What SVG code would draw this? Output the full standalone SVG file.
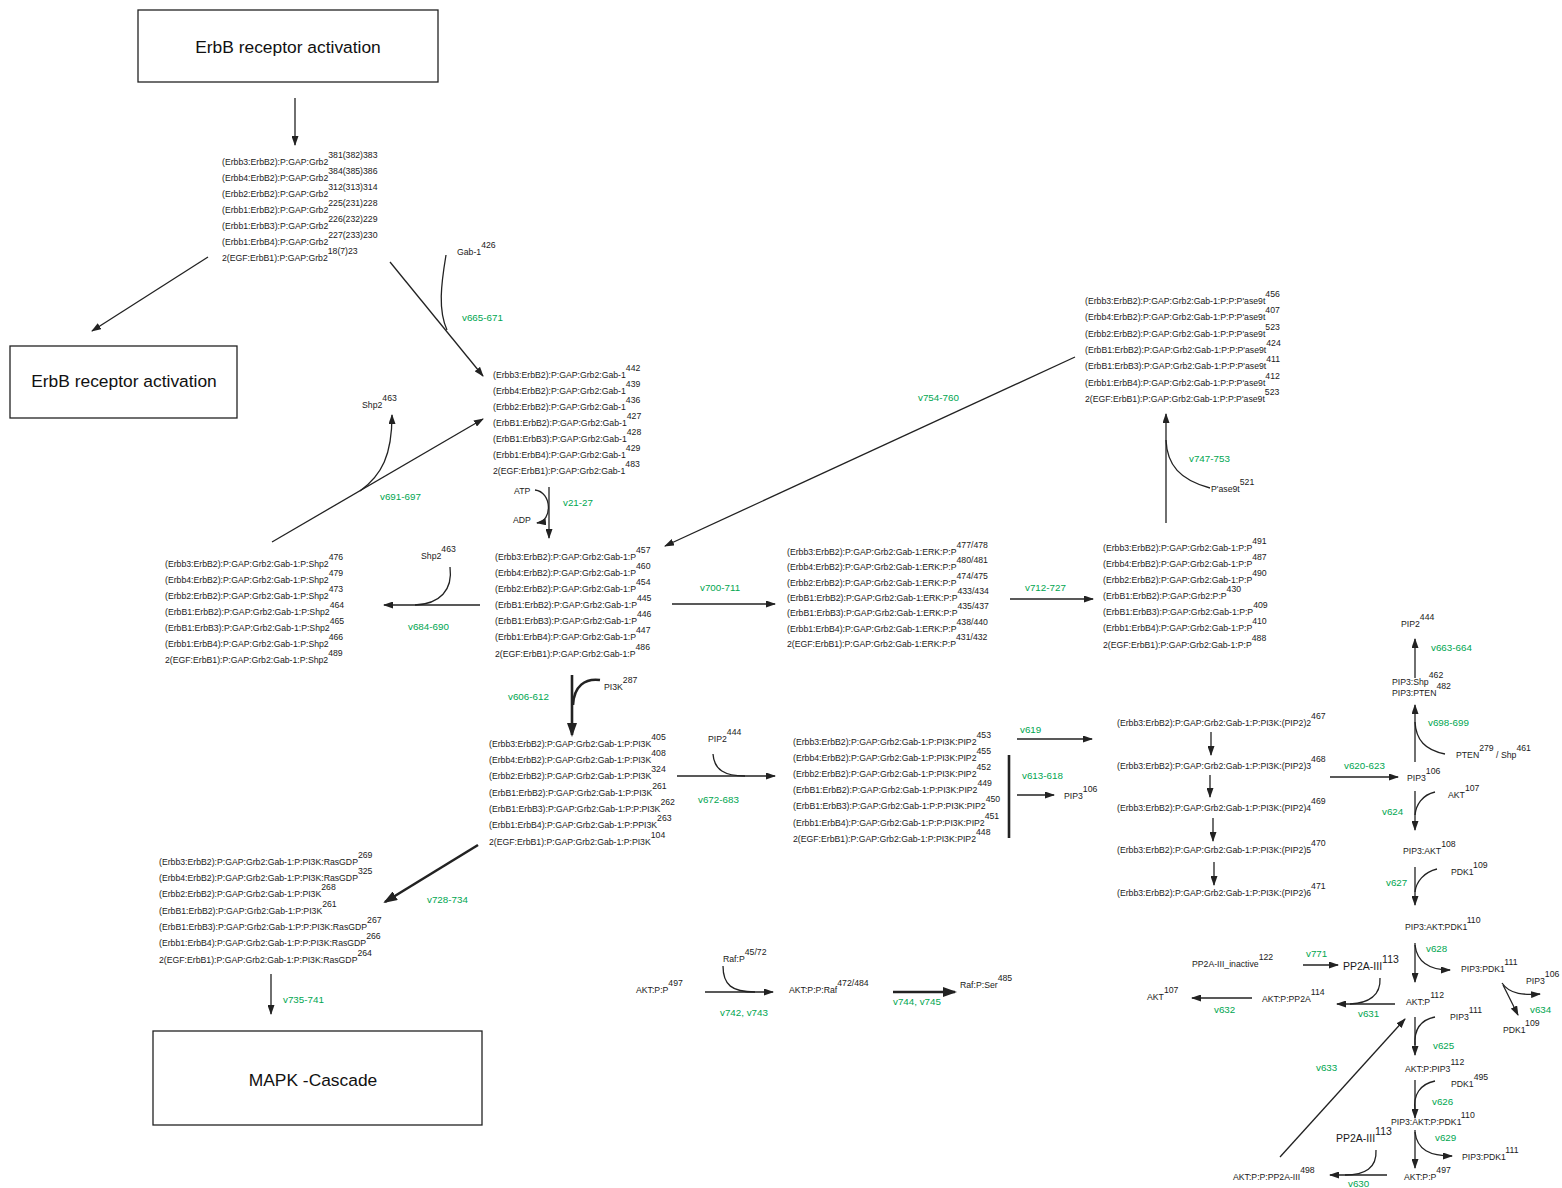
<svg xmlns="http://www.w3.org/2000/svg" width="1562" height="1188" viewBox="0 0 1562 1188">
<defs>
<style>
.s{font-family:"Liberation Sans",Arial,sans-serif;font-size:8.7px;fill:#1a1a1a}
.g{font-family:"Liberation Sans",Arial,sans-serif;font-size:9.8px;fill:#00a651}
.b{font-family:"Liberation Sans",Arial,sans-serif;font-size:17.4px;fill:#111}
.m{font-size:10.5px}
.l{stroke:#222;stroke-width:1.3;fill:none}
.t{stroke:#222;stroke-width:2.6;fill:none}
.box{fill:#fff;stroke:#222;stroke-width:1.3}
</style>
<marker id="a" markerWidth="10" markerHeight="7" refX="9" refY="3.5" orient="auto" markerUnits="userSpaceOnUse"><path d="M0,0 L10,3.5 L0,7 z" fill="#222"/></marker>
<marker id="at" markerWidth="14" markerHeight="10" refX="12" refY="5" orient="auto" markerUnits="userSpaceOnUse"><path d="M0,0 L14,5 L0,10 z" fill="#222"/></marker>
</defs>
<rect width="1562" height="1188" fill="#fff"/>

<g id="connectors">
<line class="l" x1="295" y1="98" x2="295" y2="145" marker-end="url(#a)"/>
<line class="l" x1="208" y1="257" x2="92" y2="331" marker-end="url(#a)"/>
<line class="l" x1="390" y1="262" x2="483" y2="376" marker-end="url(#a)"/>
<path class="l" d="M446,255 C441,285 438,310 447,330"/>
<line class="l" x1="272" y1="542" x2="483" y2="419" marker-end="url(#a)"/>
<path class="l" d="M360,491 C382,475 392,455 392,415" marker-end="url(#a)"/>
<line class="l" x1="549" y1="487" x2="549" y2="538" marker-end="url(#a)"/>
<path class="l" d="M535,490 C552,492 553,521 537,523" marker-end="url(#a)"/>
<line class="l" x1="480" y1="605" x2="384" y2="605" marker-end="url(#a)"/>
<path class="l" d="M450,567 C453,590 440,604 415,605"/>
<line class="l" x1="672" y1="604" x2="775" y2="604" marker-end="url(#a)"/>
<line class="l" x1="1010" y1="599" x2="1093" y2="599" marker-end="url(#a)"/>
<line class="l" x1="1166" y1="523" x2="1166" y2="414" marker-end="url(#a)"/>
<path class="l" d="M1210,488 C1180,480 1167,465 1166,440"/>
<line class="l" x1="1075" y1="357" x2="665" y2="546" marker-end="url(#a)"/>
<line class="t" x1="572" y1="675" x2="572" y2="735" marker-end="url(#at)"/>
<path class="t" d="M600,680 C585,678 574,686 573,705"/>
<line class="l" x1="677" y1="776" x2="775" y2="776" marker-end="url(#a)"/>
<path class="l" d="M713,754 C714,770 725,776 745,776"/>
<line class="l" x1="1017" y1="739" x2="1092" y2="739" marker-end="url(#a)"/>
<line class="t" x1="1009" y1="755" x2="1009" y2="838"/>
<line class="l" x1="1017" y1="795" x2="1054" y2="795" marker-end="url(#a)"/>
<line class="l" x1="1211" y1="732" x2="1211" y2="755" marker-end="url(#a)"/>
<line class="l" x1="1210" y1="775" x2="1210" y2="797" marker-end="url(#a)"/>
<line class="l" x1="1213" y1="818" x2="1213" y2="841" marker-end="url(#a)"/>
<line class="l" x1="1214" y1="862" x2="1214" y2="885" marker-end="url(#a)"/>
<line class="l" x1="1330" y1="777" x2="1398" y2="777" marker-end="url(#a)"/>
<line class="l" x1="1415" y1="762" x2="1415" y2="705" marker-end="url(#a)"/>
<path class="l" d="M1445,754 C1425,750 1416,740 1415,722"/>
<line class="l" x1="1415" y1="678" x2="1415" y2="639" marker-end="url(#a)"/>
<line class="l" x1="1415" y1="791" x2="1415" y2="830" marker-end="url(#a)"/>
<path class="l" d="M1435,792 C1422,795 1416,805 1415,815"/>
<line class="l" x1="1415" y1="867" x2="1415" y2="905" marker-end="url(#a)"/>
<path class="l" d="M1437,869 C1424,872 1416,882 1415,892"/>
<line class="l" x1="1415" y1="943" x2="1415" y2="982" marker-end="url(#a)"/>
<path class="l" d="M1415,945 C1417,962 1430,970 1450,970" marker-end="url(#a)"/>
<path class="l" d="M1502,983 C1510,995 1525,995 1540,994" marker-end="url(#a)"/>
<line class="l" x1="1503" y1="985" x2="1518" y2="1015" marker-end="url(#a)"/>
<line class="l" x1="1303" y1="965" x2="1338" y2="965" marker-end="url(#a)"/>
<line class="l" x1="1395" y1="1004" x2="1337" y2="1004" marker-end="url(#a)"/>
<path class="l" d="M1380,978 C1381,996 1368,1003 1350,1004"/>
<line class="l" x1="1252" y1="998" x2="1192" y2="998" marker-end="url(#a)"/>
<line class="l" x1="1415" y1="1017" x2="1415" y2="1055" marker-end="url(#a)"/>
<path class="l" d="M1435,1017 C1420,1020 1414,1030 1415,1045"/>
<line class="l" x1="1415" y1="1080" x2="1415" y2="1118" marker-end="url(#a)"/>
<path class="l" d="M1435,1081 C1420,1084 1413,1095 1415,1110"/>
<line class="l" x1="1415" y1="1130" x2="1415" y2="1168" marker-end="url(#a)"/>
<path class="l" d="M1415,1132 C1417,1150 1430,1156 1452,1156" marker-end="url(#a)"/>
<line class="l" x1="1387" y1="1175" x2="1330" y2="1175" marker-end="url(#a)"/>
<path class="l" d="M1376,1150 C1377,1168 1365,1175 1345,1175"/>
<line class="l" x1="1280" y1="1157" x2="1405" y2="1019" marker-end="url(#a)"/>
<line class="l" x1="705" y1="992" x2="773" y2="992" marker-end="url(#a)"/>
<path class="l" d="M723,966 C723,985 732,992 755,992"/>
<line class="t" x1="893" y1="992" x2="955" y2="992" marker-end="url(#at)"/>
<line class="t" x1="478" y1="845" x2="385" y2="902" marker-end="url(#at)"/>
<line class="l" x1="271" y1="974" x2="271" y2="1014" marker-end="url(#a)"/>
</g>

<g id="labels">
<text class="g" x="462" y="321">v665-671</text>
<text class="g" x="380" y="500">v691-697</text>
<text class="g" x="563" y="506">v21-27</text>
<text class="g" x="408" y="630">v684-690</text>
<text class="g" x="700" y="591">v700-711</text>
<text class="g" x="1025" y="591">v712-727</text>
<text class="g" x="1189" y="462">v747-753</text>
<text class="g" x="918" y="401">v754-760</text>
<text class="g" x="508" y="700">v606-612</text>
<text class="g" x="698" y="803">v672-683</text>
<text class="g" x="1020" y="733">v619</text>
<text class="g" x="1022" y="779">v613-618</text>
<text class="g" x="1344" y="769">v620-623</text>
<text class="g" x="1428" y="726">v698-699</text>
<text class="g" x="1431" y="651">v663-664</text>
<text class="g" x="1382" y="815">v624</text>
<text class="g" x="1386" y="886">v627</text>
<text class="g" x="1426" y="952">v628</text>
<text class="g" x="1530" y="1013">v634</text>
<text class="g" x="1306" y="957">v771</text>
<text class="g" x="1358" y="1017">v631</text>
<text class="g" x="1214" y="1013">v632</text>
<text class="g" x="1433" y="1049">v625</text>
<text class="g" x="1316" y="1071">v633</text>
<text class="g" x="1432" y="1105">v626</text>
<text class="g" x="1435" y="1141">v629</text>
<text class="g" x="1348" y="1187">v630</text>
<text class="g" x="720" y="1016">v742, v743</text>
<text class="g" x="893" y="1005">v744, v745</text>
<text class="g" x="427" y="903">v728-734</text>
<text class="g" x="283" y="1003">v735-741</text>
</g>

<g id="box_erbb_top"><rect class="box" x="138" y="10" width="300" height="72"/><text class="b" x="288" y="53" text-anchor="middle">ErbB receptor activation</text></g>
<g id="box_erbb_left"><rect class="box" x="10" y="346" width="227" height="72"/><text class="b" x="124" y="387" text-anchor="middle">ErbB receptor activation</text></g>
<g id="box_mapk"><rect class="box" x="153" y="1031" width="329" height="94"/><text class="b" x="313" y="1086" text-anchor="middle">MAPK -Cascade</text></g>

<g id="n_grb2">
<text class="s" x="222" y="165">(Erbb3:ErbB2):P:GAP:Grb2<tspan dy="-7">381(382)383</tspan></text>
<text class="s" x="222" y="181">(Erbb4:ErbB2):P:GAP:Grb2<tspan dy="-7">384(385)386</tspan></text>
<text class="s" x="222" y="197">(Erbb2:ErbB2):P:GAP:Grb2<tspan dy="-7">312(313)314</tspan></text>
<text class="s" x="222" y="213">(Erbb1:ErbB2):P:GAP:Grb2<tspan dy="-7">225(231)228</tspan></text>
<text class="s" x="222" y="229">(Erbb1:ErbB3):P:GAP:Grb2<tspan dy="-7">226(232)229</tspan></text>
<text class="s" x="222" y="245">(Erbb1:ErbB4):P:GAP:Grb2<tspan dy="-7">227(233)230</tspan></text>
<text class="s" x="222" y="261">2(EGF:ErbB1):P:GAP:Grb2<tspan dy="-7">18(7)23</tspan></text>
</g>

<g id="n_gab1"><text class="s" x="457" y="255">Gab-1<tspan dy="-7">426</tspan></text></g>

<g id="n_gab1list">
<text class="s" x="493" y="378">(Erbb3:ErbB2):P:GAP:Grb2:Gab-1<tspan dy="-7">442</tspan></text>
<text class="s" x="493" y="394">(Erbb4:ErbB2):P:GAP:Grb2:Gab-1<tspan dy="-7">439</tspan></text>
<text class="s" x="493" y="410">(Erbb2:ErbB2):P:GAP:Grb2:Gab-1<tspan dy="-7">436</tspan></text>
<text class="s" x="493" y="426">(ErbB1:ErbB2):P:GAP:Grb2:Gab-1<tspan dy="-7">427</tspan></text>
<text class="s" x="493" y="442">(ErbB1:ErbB3):P:GAP:Grb2:Gab-1<tspan dy="-7">428</tspan></text>
<text class="s" x="493" y="458">(Erbb1:ErbB4):P:GAP:Grb2:Gab-1<tspan dy="-7">429</tspan></text>
<text class="s" x="493" y="474">2(EGF:ErbB1):P:GAP:Grb2:Gab-1<tspan dy="-7">483</tspan></text>
</g>

<g id="n_shp2a"><text class="s" x="362" y="408">Shp2<tspan dy="-7">463</tspan></text></g>
<g id="n_atp"><text class="s" x="514" y="494">ATP</text></g>
<g id="n_adp"><text class="s" x="513" y="523">ADP</text></g>

<g id="n_shp2list">
<text class="s" x="165" y="567">(Erbb3:ErbB2):P:GAP:Grb2:Gab-1:P:Shp2<tspan dy="-7">476</tspan></text>
<text class="s" x="165" y="583">(Erbb4:ErbB2):P:GAP:Grb2:Gab-1:P:Shp2<tspan dy="-7">479</tspan></text>
<text class="s" x="165" y="599">(Erbb2:ErbB2):P:GAP:Grb2:Gab-1:P:Shp2<tspan dy="-7">473</tspan></text>
<text class="s" x="165" y="615">(ErbB1:ErbB2):P:GAP:Grb2:Gab-1:P:Shp2<tspan dy="-7">464</tspan></text>
<text class="s" x="165" y="631">(ErbB1:ErbB3):P:GAP:Grb2:Gab-1:P:Shp2<tspan dy="-7">465</tspan></text>
<text class="s" x="165" y="647">(Erbb1:ErbB4):P:GAP:Grb2:Gab-1:P:Shp2<tspan dy="-7">466</tspan></text>
<text class="s" x="165" y="663">2(EGF:ErbB1):P:GAP:Grb2:Gab-1:P:Shp2<tspan dy="-7">489</tspan></text>
</g>

<g id="n_shp2b"><text class="s" x="421" y="559">Shp2<tspan dy="-7">463</tspan></text></g>

<g id="n_plist">
<text class="s" x="495" y="560">(Erbb3:ErbB2):P:GAP:Grb2:Gab-1:P<tspan dy="-7">457</tspan></text>
<text class="s" x="495" y="576">(Erbb4:ErbB2):P:GAP:Grb2:Gab-1:P<tspan dy="-7">460</tspan></text>
<text class="s" x="495" y="592">(Erbb2:ErbB2):P:GAP:Grb2:Gab-1:P<tspan dy="-7">454</tspan></text>
<text class="s" x="495" y="608">(ErbB1:ErbB2):P:GAP:Grb2:Gab-1:P<tspan dy="-7">445</tspan></text>
<text class="s" x="495" y="624">(ErbB1:ErbB3):P:GAP:Grb2:Gab-1:P<tspan dy="-7">446</tspan></text>
<text class="s" x="495" y="640">(Erbb1:ErbB4):P:GAP:Grb2:Gab-1:P<tspan dy="-7">447</tspan></text>
<text class="s" x="495" y="657">2(EGF:ErbB1):P:GAP:Grb2:Gab-1:P<tspan dy="-7">486</tspan></text>
</g>

<g id="n_erklist">
<text class="s" x="787" y="555">(Erbb3:ErbB2):P:GAP:Grb2:Gab-1:ERK:P:P<tspan dy="-7">477/478</tspan></text>
<text class="s" x="787" y="570">(Erbb4:ErbB2):P:GAP:Grb2:Gab-1:ERK:P:P<tspan dy="-7">480/481</tspan></text>
<text class="s" x="787" y="586">(Erbb2:ErbB2):P:GAP:Grb2:Gab-1:ERK:P:P<tspan dy="-7">474/475</tspan></text>
<text class="s" x="787" y="601">(ErbB1:ErbB2):P:GAP:Grb2:Gab-1:ERK:P:P<tspan dy="-7">433/434</tspan></text>
<text class="s" x="787" y="616">(ErbB1:ErbB3):P:GAP:Grb2:Gab-1:ERK:P:P<tspan dy="-7">435/437</tspan></text>
<text class="s" x="787" y="632">(Erbb1:ErbB4):P:GAP:Grb2:Gab-1:ERK:P:P<tspan dy="-7">438/440</tspan></text>
<text class="s" x="787" y="647">2(EGF:ErbB1):P:GAP:Grb2:Gab-1:ERK:P:P<tspan dy="-7">431/432</tspan></text>
</g>

<g id="n_paselist">
<text class="s" x="1085" y="304">(Erbb3:ErbB2):P:GAP:Grb2:Gab-1:P:P:P'ase9t<tspan dy="-7">456</tspan></text>
<text class="s" x="1085" y="320">(Erbb4:ErbB2):P:GAP:Grb2:Gab-1:P:P:P'ase9t<tspan dy="-7">407</tspan></text>
<text class="s" x="1085" y="337">(Erbb2:ErbB2):P:GAP:Grb2:Gab-1:P:P:P'ase9t<tspan dy="-7">523</tspan></text>
<text class="s" x="1085" y="353">(ErbB1:ErbB2):P:GAP:Grb2:Gab-1:P:P:P'ase9t<tspan dy="-7">424</tspan></text>
<text class="s" x="1085" y="369">(ErbB1:ErbB3):P:GAP:Grb2:Gab-1:P:P:P'ase9t<tspan dy="-7">411</tspan></text>
<text class="s" x="1085" y="386">(Erbb1:ErbB4):P:GAP:Grb2:Gab-1:P:P:P'ase9t<tspan dy="-7">412</tspan></text>
<text class="s" x="1085" y="402">2(EGF:ErbB1):P:GAP:Grb2:Gab-1:P:P:P'ase9t<tspan dy="-7">523</tspan></text>
</g>

<g id="n_pase9t"><text class="s" x="1211" y="492">P'ase9t<tspan dy="-7">521</tspan></text></g>

<g id="n_pplist">
<text class="s" x="1103" y="551">(Erbb3:ErbB2):P:GAP:Grb2:Gab-1:P:P<tspan dy="-7">491</tspan></text>
<text class="s" x="1103" y="567">(Erbb4:ErbB2):P:GAP:Grb2:Gab-1:P:P<tspan dy="-7">487</tspan></text>
<text class="s" x="1103" y="583">(Erbb2:ErbB2):P:GAP:Grb2:Gab-1:P:P<tspan dy="-7">490</tspan></text>
<text class="s" x="1103" y="599">(ErbB1:ErbB2):P:GAP:Grb2:P:P<tspan dy="-7">430</tspan></text>
<text class="s" x="1103" y="615">(ErbB1:ErbB3):P:GAP:Grb2:Gab-1:P:P<tspan dy="-7">409</tspan></text>
<text class="s" x="1103" y="631">(Erbb1:ErbB4):P:GAP:Grb2:Gab-1:P:P<tspan dy="-7">410</tspan></text>
<text class="s" x="1103" y="648">2(EGF:ErbB1):P:GAP:Grb2:Gab-1:P:P<tspan dy="-7">488</tspan></text>
</g>

<g id="n_pi3k"><text class="s" x="604" y="690">PI3K<tspan dy="-7">287</tspan></text></g>

<g id="n_pi3klist">
<text class="s" x="489" y="747">(Erbb3:ErbB2):P:GAP:Grb2:Gab-1:P:PI3K<tspan dy="-7">405</tspan></text>
<text class="s" x="489" y="763">(Erbb4:ErbB2):P:GAP:Grb2:Gab-1:P:PI3K<tspan dy="-7">408</tspan></text>
<text class="s" x="489" y="779">(Erbb2:ErbB2):P:GAP:Grb2:Gab-1:P:PI3K<tspan dy="-7">324</tspan></text>
<text class="s" x="489" y="796">(ErbB1:ErbB2):P:GAP:Grb2:Gab-1:P:PI3K<tspan dy="-7">261</tspan></text>
<text class="s" x="489" y="812">(ErbB1:ErbB3):P:GAP:Grb2:Gab-1:P:P:PI3K<tspan dy="-7">262</tspan></text>
<text class="s" x="489" y="828">(Erbb1:ErbB4):P:GAP:Grb2:Gab-1:P:PPI3K<tspan dy="-7">263</tspan></text>
<text class="s" x="489" y="845">2(EGF:ErbB1):P:GAP:Grb2:Gab-1:P:PI3K<tspan dy="-7">104</tspan></text>
</g>

<g id="n_pip2a"><text class="s" x="708" y="742">PIP2<tspan dy="-7">444</tspan></text></g>

<g id="n_pip2list">
<text class="s" x="793" y="745">(Erbb3:ErbB2):P:GAP:Grb2:Gab-1:P:PI3K:PIP2<tspan dy="-7">453</tspan></text>
<text class="s" x="793" y="761">(Erbb4:ErbB2):P:GAP:Grb2:Gab-1:P:PI3K:PIP2<tspan dy="-7">455</tspan></text>
<text class="s" x="793" y="777">(Erbb2:ErbB2):P:GAP:Grb2:Gab-1:P:PI3K:PIP2<tspan dy="-7">452</tspan></text>
<text class="s" x="793" y="793">(ErbB1:ErbB2):P:GAP:Grb2:Gab-1:P:PI3K:PIP2<tspan dy="-7">449</tspan></text>
<text class="s" x="793" y="809">(ErbB1:ErbB3):P:GAP:Grb2:Gab-1:P:P:PI3K:PIP2<tspan dy="-7">450</tspan></text>
<text class="s" x="793" y="826">(Erbb1:ErbB4):P:GAP:Grb2:Gab-1:P:P:PI3K:PIP2<tspan dy="-7">451</tspan></text>
<text class="s" x="793" y="842">2(EGF:ErbB1):P:GAP:Grb2:Gab-1:P:PI3K:PIP2<tspan dy="-7">448</tspan></text>
</g>

<g id="n_pip3a"><text class="s" x="1064" y="799">PIP3<tspan dy="-7">106</tspan></text></g>

<g id="n_pip2n">
<text class="s" x="1117" y="726">(Erbb3:ErbB2):P:GAP:Grb2:Gab-1:P:PI3K:(PIP2)2<tspan dy="-7">467</tspan></text>
<text class="s" x="1117" y="769">(Erbb3:ErbB2):P:GAP:Grb2:Gab-1:P:PI3K:(PIP2)3<tspan dy="-7">468</tspan></text>
<text class="s" x="1117" y="811">(Erbb3:ErbB2):P:GAP:Grb2:Gab-1:P:PI3K:(PIP2)4<tspan dy="-7">469</tspan></text>
<text class="s" x="1117" y="853">(Erbb3:ErbB2):P:GAP:Grb2:Gab-1:P:PI3K:(PIP2)5<tspan dy="-7">470</tspan></text>
<text class="s" x="1117" y="896">(Erbb3:ErbB2):P:GAP:Grb2:Gab-1:P:PI3K:(PIP2)6<tspan dy="-7">471</tspan></text>
</g>

<g id="n_rasgdp">
<text class="s" x="159" y="865">(Erbb3:ErbB2):P:GAP:Grb2:Gab-1:P:PI3K:RasGDP<tspan dy="-7">269</tspan></text>
<text class="s" x="159" y="881">(Erbb4:ErbB2):P:GAP:Grb2:Gab-1:P:PI3K:RasGDP<tspan dy="-7">325</tspan></text>
<text class="s" x="159" y="897">(Erbb2:ErbB2):P:GAP:Grb2:Gab-1:P:PI3K<tspan dy="-7">268</tspan></text>
<text class="s" x="159" y="914">(ErbB1:ErbB2):P:GAP:Grb2:Gab-1:P:PI3K<tspan dy="-7">261</tspan></text>
<text class="s" x="159" y="930">(ErbB1:ErbB3):P:GAP:Grb2:Gab-1:P:P:PI3K:RasGDP<tspan dy="-7">267</tspan></text>
<text class="s" x="159" y="946">(Erbb1:ErbB4):P:GAP:Grb2:Gab-1:P:P:PI3K:RasGDP<tspan dy="-7">266</tspan></text>
<text class="s" x="159" y="963">2(EGF:ErbB1):P:GAP:Grb2:Gab-1:P:PI3K:RasGDP<tspan dy="-7">264</tspan></text>
</g>

<g id="n_pip2b"><text class="s" x="1401" y="627">PIP2<tspan dy="-7">444</tspan></text></g>
<g id="n_pip3shp"><text class="s" x="1392" y="685">PIP3:Shp<tspan dy="-7">462</tspan></text><text class="s" x="1392" y="696">PIP3:PTEN<tspan dy="-7">482</tspan></text></g>
<g id="n_pten"><text class="s" x="1456" y="758">PTEN<tspan dy="-7">279</tspan><tspan dy="7"> / Shp</tspan><tspan dy="-7">461</tspan></text></g>
<g id="n_pip3b"><text class="s" x="1407" y="781">PIP3<tspan dy="-7">106</tspan></text></g>
<g id="n_akt107"><text class="s" x="1448" y="798">AKT<tspan dy="-7">107</tspan></text></g>
<g id="n_pip3akt"><text class="s" x="1403" y="854">PIP3:AKT<tspan dy="-7">108</tspan></text></g>
<g id="n_pdk1a"><text class="s" x="1451" y="875">PDK1<tspan dy="-7">109</tspan></text></g>
<g id="n_pip3aktpdk1"><text class="s" x="1405" y="930">PIP3:AKT:PDK1<tspan dy="-7">110</tspan></text></g>
<g id="n_pip3pdk1a"><text class="s" x="1461" y="972">PIP3:PDK1<tspan dy="-7">111</tspan></text></g>
<g id="n_pip3c"><text class="s" x="1526" y="984">PIP3<tspan dy="-7">106</tspan></text></g>
<g id="n_pdk1b"><text class="s" x="1503" y="1033">PDK1<tspan dy="-7">109</tspan></text></g>
<g id="n_pp2ainact"><text class="s" x="1192" y="967">PP2A-III_inactive<tspan dy="-7">122</tspan></text></g>
<g id="n_pp2a1"><text class="s m" x="1343" y="970">PP2A-III<tspan dy="-7">113</tspan></text></g>
<g id="n_aktp"><text class="s" x="1406" y="1005">AKT:P<tspan dy="-7">112</tspan></text></g>
<g id="n_aktppp2a"><text class="s" x="1262" y="1002">AKT:P:PP2A<tspan dy="-7">114</tspan></text></g>
<g id="n_akt107b"><text class="s" x="1147" y="1000">AKT<tspan dy="-7">107</tspan></text></g>
<g id="n_pip3d"><text class="s" x="1450" y="1020">PIP3<tspan dy="-7">111</tspan></text></g>
<g id="n_aktppip3"><text class="s" x="1405" y="1072">AKT:P:PIP3<tspan dy="-7">112</tspan></text></g>
<g id="n_pdk1c"><text class="s" x="1451" y="1087">PDK1<tspan dy="-7">495</tspan></text></g>
<g id="n_pip3aktppdk1"><text class="s" x="1391" y="1125">PIP3:AKT:P:PDK1<tspan dy="-7">110</tspan></text></g>
<g id="n_pip3pdk1b"><text class="s" x="1462" y="1160">PIP3:PDK1<tspan dy="-7">111</tspan></text></g>
<g id="n_pp2a2"><text class="s m" x="1336" y="1142">PP2A-III<tspan dy="-7">113</tspan></text></g>
<g id="n_aktpp"><text class="s" x="1404" y="1180">AKT:P:P<tspan dy="-7">497</tspan></text></g>
<g id="n_aktpppp2a"><text class="s" x="1233" y="1180">AKT:P:P:PP2A-III<tspan dy="-7">498</tspan></text></g>

<g id="n_aktpp2"><text class="s" x="636" y="993">AKT:P:P<tspan dy="-7">497</tspan></text></g>
<g id="n_rafp"><text class="s" x="723" y="962">Raf:P<tspan dy="-7">45/72</tspan></text></g>
<g id="n_aktppraf"><text class="s" x="789" y="993">AKT:P:P:Raf<tspan dy="-7">472/484</tspan></text></g>
<g id="n_rafpser"><text class="s" x="960" y="988">Raf:P:Ser<tspan dy="-7">485</tspan></text></g>
</svg>
